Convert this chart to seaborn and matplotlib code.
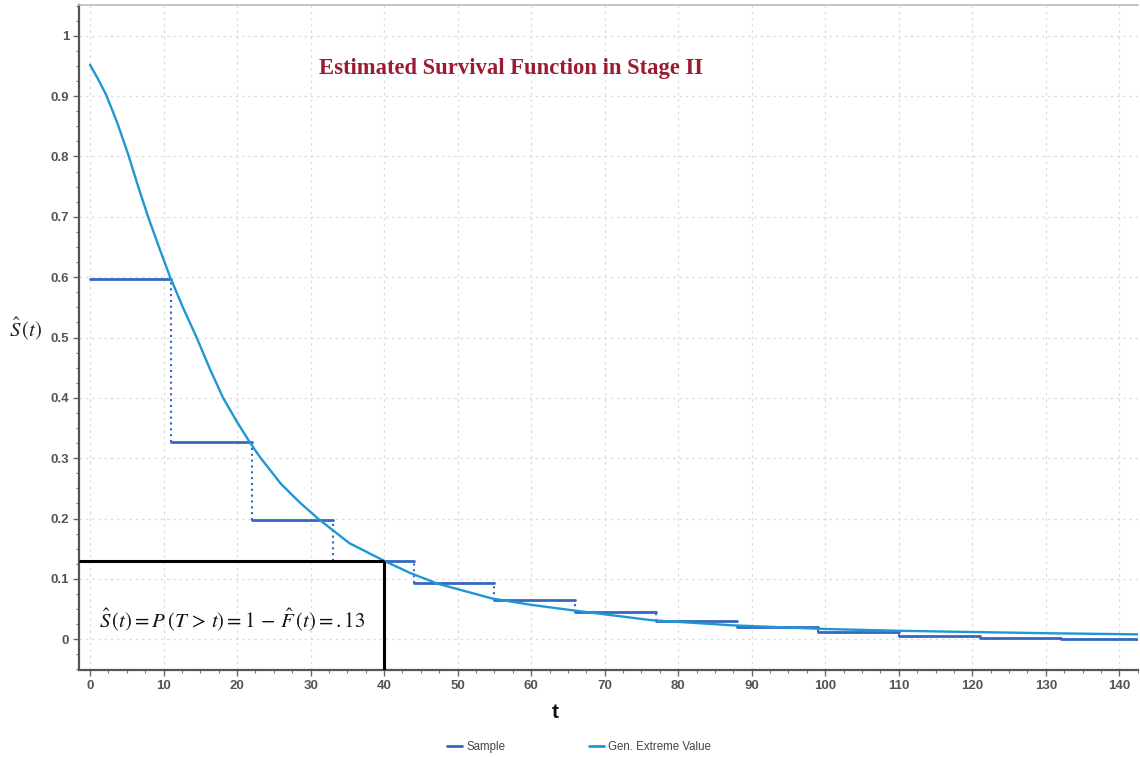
import matplotlib
matplotlib.use("Agg")
import matplotlib.pyplot as plt
from matplotlib.lines import Line2D
from matplotlib.ticker import MultipleLocator, FuncFormatter
import seaborn as sns
import pandas as pd
import numpy as np

# ---- data ----
step_t = [0, 11, 22, 33, 44, 55, 66, 77, 88, 99, 110, 121, 132, 143]          # step change times (last = end)
step_s = [0.597, 0.327, 0.197, 0.130, 0.093, 0.065, 0.045, 0.030, 0.020, 0.012, 0.005, 0.002, 0.0]

fit_t = [0, 1.1, 2.2, 3.7, 5.2, 6.5, 7.9, 9.4, 10.9, 12.7, 14.5, 16.3, 18.1, 19.9, 21.7,
         23.1, 26.0, 28.5, 31.0, 35.3, 40.0, 43.5, 47.3, 54.7, 60.0, 65.6, 76.4, 87.5,
         100, 110, 120, 130, 143]
fit_s = [0.952, 0.928, 0.902, 0.856, 0.803, 0.752, 0.700, 0.649, 0.600, 0.548, 0.500, 0.448, 0.400, 0.362, 0.327,
         0.302, 0.257, 0.227, 0.200, 0.159, 0.130, 0.110, 0.092, 0.0675, 0.057, 0.048, 0.0315, 0.023,
         0.017, 0.014, 0.012, 0.010, 0.008]

anno_t = 40
anno_s = 0.13

title = "Estimated Survival Function in Stage II"
legend_labels = ["Sample", "Gen. Extreme Value"]

sample_color = "#3567C1"
fit_color = "#1F97D4"

# ---- figure ----
sns.set_theme(style="white")
plt.rcParams['font.family'] = ['Liberation Sans', 'DejaVu Sans']
plt.rcParams['mathtext.fontset'] = 'stix'

fig = plt.figure(figsize=(11.4, 7.57), dpi=100)
ax = fig.add_axes([0.0693, 0.1149, 0.9287, 0.8785])

xmin, xmax = -1.5, 142.5
ymin, ymax = -0.051, 1.051

# sample step horizontals
rows = []
for i, v in enumerate(step_s):
    rows.append({"seg": i, "t": step_t[i], "s": v})
    rows.append({"seg": i, "t": step_t[i + 1], "s": v})
df_steps = pd.DataFrame(rows)
sns.lineplot(data=df_steps, x="t", y="s", units="seg", estimator=None,
             color=sample_color, lw=2.0, ax=ax, legend=False)
# dotted verticals
ax.vlines(step_t[1:-1], step_s[1:], step_s[:-1], colors=sample_color,
          linestyles=(0, (1, 1.8)), lw=1.5)

# fitted curve
df_fit = pd.DataFrame({"t": fit_t, "s": fit_s})
sns.lineplot(data=df_fit, x="t", y="s", color=fit_color, lw=1.7, ax=ax,
             legend=False, sort=False)

# annotation lines
ax.plot([xmin, anno_t], [anno_s, anno_s], color="black", lw=2.2, solid_capstyle="butt", zorder=5)
ax.plot([anno_t, anno_t], [ymin, anno_s], color="black", lw=2.2, solid_capstyle="butt", zorder=5)
ax.text(19.3, 0.032, r"$\hat{S}\,(t) = P\,(T\, >\, t) = 1\, -\, \hat{F}\,(t) = .13$",
        ha="center", va="center", fontsize=15, color="#111111")

ax.set_xlim(xmin, xmax)
ax.set_ylim(ymin, ymax)

ax.xaxis.set_major_locator(MultipleLocator(10))
ax.xaxis.set_minor_locator(MultipleLocator(2.5))
ax.yaxis.set_major_locator(MultipleLocator(0.1))
ax.yaxis.set_minor_locator(MultipleLocator(0.025))
ax.yaxis.set_major_formatter(FuncFormatter(lambda v, p: f"{v:.1f}".rstrip("0").rstrip(".") if abs(v) > 1e-9 else "0"))

ax.grid(True, which="major", color="#dcdcdc", linestyle=(0, (2, 3)), lw=0.9)
ax.tick_params(which="major", direction="out", length=4, width=1, color="#666666",
               labelsize=9.5, labelcolor="#555555", bottom=True, left=True, pad=3)
ax.tick_params(which="minor", direction="out", length=2.5, width=0.8, color="#777777",
               bottom=True, left=True)
for lab in ax.get_xticklabels() + ax.get_yticklabels():
    lab.set_fontweight("bold")

for side in ["left", "bottom"]:
    ax.spines[side].set_color("#555555")
    ax.spines[side].set_linewidth(1.6)
ax.spines["top"].set_color("#bbbbbb")
ax.spines["top"].set_linewidth(1.2)
ax.spines["right"].set_visible(False)

ax.set_xlabel("t", fontsize=15, fontweight="bold", color="#111111")
ax.xaxis.set_label_coords(0.45, -0.05)
ax.set_ylabel(r"$\hat{S}\,(t)$", fontsize=15, rotation=0, color="#222222")
ax.yaxis.set_label_coords(-0.05, 0.493)

ax.text(0.4085, 0.905, title, transform=ax.transAxes, ha="center", va="center",
        fontsize=16.3, fontweight="bold", color="#9B1C31", family=["Liberation Serif", "DejaVu Serif"])

handles = [Line2D([0], [0], color=sample_color, lw=2),
           Line2D([0], [0], color=fit_color, lw=2)]
fig.legend(handles, legend_labels, loc="center", bbox_to_anchor=(0.508, 0.013), ncol=2,
           frameon=False, fontsize=8.3, handlelength=1.3, handletextpad=0.4,
           columnspacing=7.2, labelcolor="#444444")

fig.savefig("out.png", dpi=100)
